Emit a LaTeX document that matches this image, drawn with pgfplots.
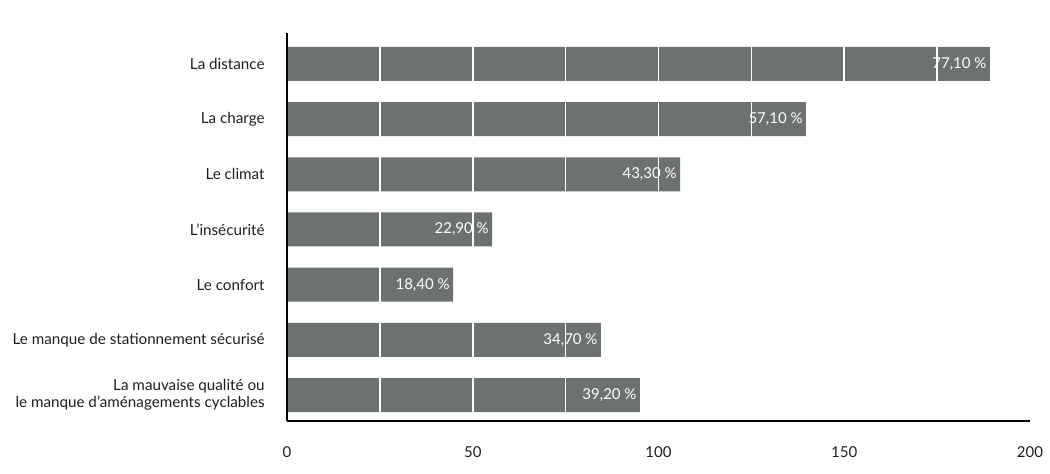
\documentclass[border=0pt]{standalone}
\usepackage{pgfplots}
\usepackage{pgfplotstable}
\pgfplotsset{compat=1.18}
\usepackage{fontspec}
\setmainfont{Lato}
\definecolor{bargray}{RGB}{108,114,112}
\definecolor{txt}{RGB}{30,30,30}
\pgfplotstableread[col sep=semicolon]{
cat;val;lab
0;189.2;77,10
1;139.7;57,10
2;105.8;43,30
3;55.2;22,90
4;44.7;18,40
5;84.5;34,70
6;95.0;39,20
}\data
\begin{document}
\begin{tikzpicture}
\useasboundingbox (0,0) rectangle (525pt,236.5pt);
\begin{axis}[
  at={(143.5pt,26pt)}, anchor=south west,
  scale only axis, width=371.5pt, height=194pt,
  xmin=0, xmax=200, ymin=-0.56, ymax=6.47,
  y dir=reverse,
  axis x line*=bottom, axis y line*=left,
  axis line style={black, line width=1pt, -},
  xtick={0,50,100,150,200},
  minor xtick={25,75,125,175},
  xmajorgrids, xminorgrids,
  major grid style={white, line width=0.8pt},
  minor grid style={white, line width=0.8pt},
  major tick length=0pt, minor tick length=0pt,
  axis on top,
  /pgf/number format/assume math mode=true,
  xticklabel style={font=\fontsize{7.5}{9}\selectfont, text=txt, anchor=center, yshift=-15.5pt},
  ytick={0,1,2,3,4,5,6},
  yticklabels={{La distance},{La charge},{Le climat},{L’insécurité},{Le confort},{Le manque de stationnement sécurisé},{La mauvaise qualité ou\\le manque d’aménagements cyclables}},
  yticklabel style={font=\fontsize{7.6}{8.3}\selectfont, text=txt, align=right, anchor=east, inner sep=0pt, xshift=-11pt},
  xbar, bar width=17pt,
  point meta=explicit symbolic,
  nodes near coords={\pgfplotspointmeta~\%},
  every node near coord/.append style={anchor=east, inner sep=0pt, xshift=-1.5pt, text=white, font=\fontsize{7.5}{9}\selectfont},
  clip=false,
]
\addplot[fill=bargray, draw=none] table[x=val, y=cat, meta=lab] {\data};
\end{axis}
\end{tikzpicture}
\end{document}
